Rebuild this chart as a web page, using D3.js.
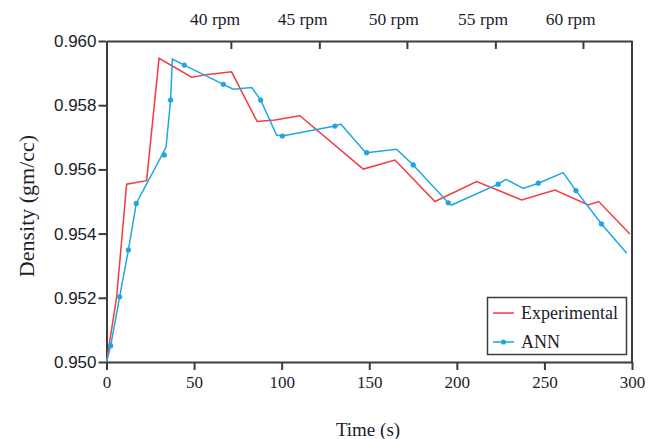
<!doctype html>
<html>
<head>
<script src="https://cdnjs.cloudflare.com/ajax/libs/d3/7.8.5/d3.min.js"></script>
<style>
  body { margin: 0; background: #fff; }
  svg { display: block; }
</style>
</head>
<body>
<svg id="chart" width="660" height="439"></svg>
<script>
// Experimental series (time in s, density in gm/cc)
var expTime = [0, 5.8, 11.5, 22.9, 30, 48.6, 58, 71.4, 86, 96.2, 110.4, 146.6, 164.7, 187.5, 211.3, 237, 256, 275, 281, 298.8];
var expDensity = [0.9500, 0.95203, 0.95554, 0.95565, 0.95946, 0.95887, 0.95896, 0.95904, 0.95749, 0.95754, 0.95767, 0.95601, 0.95629, 0.95500, 0.95562, 0.95505, 0.95536, 0.95489, 0.95500, 0.95399];

// ANN line vertices
var annTime = [0, 2.4, 7.5, 12.5, 17, 34, 36.6, 37.6, 44.4, 66.7, 72.4, 82.9, 88, 97.1, 100.4, 130.4, 133.8, 147.5, 148.5, 165.6, 175.1, 195.1, 197, 223.6, 228, 237.9, 246.5, 260.7, 268, 282.6, 297];
var annDensity = [0.9500, 0.95051, 0.95203, 0.95349, 0.95494, 0.95669, 0.95816, 0.95944, 0.95925, 0.95865, 0.95850, 0.95855, 0.95816, 0.95707, 0.95704, 0.95735, 0.95741, 0.95655, 0.95652, 0.95663, 0.95614, 0.95496, 0.95489, 0.95554, 0.95569, 0.95541, 0.95557, 0.95590, 0.95534, 0.95430, 0.95339];

// ANN markers
var markTime = [2.4, 7.5, 12.5, 17, 33, 36.6, 44.4, 66.7, 88, 100.4, 130.4, 148.5, 175.1, 195.1, 223.6, 246.5, 268, 282.6];
var markDensity = [0.95051, 0.95203, 0.95349, 0.95494, 0.95645, 0.95816, 0.95925, 0.95865, 0.95816, 0.95704, 0.95735, 0.95652, 0.95614, 0.95496, 0.95554, 0.95557, 0.95534, 0.95430];

// top rpm axis
var rpmTicks = [71, 121.5, 171.5, 222, 272];
var rpmLabelPos = [62, 112, 164, 215, 265];
var rpmLabels = ["40 rpm", "45 rpm", "50 rpm", "55 rpm", "60 rpm"];

var xTicks = [0, 50, 100, 150, 200, 250, 300];
var yTicks = [0.950, 0.952, 0.954, 0.956, 0.958, 0.960];

var mLeft = 106.5, mRight = 632, mTop = 41, mBottom = 362;
var redColor = "#f23b43", blueColor = "#1fa6e2", axisColor = "#3c3c3c", textColor = "#1c1c2a";

var svg = d3.select("#chart");
svg.append("rect").attr("width", 660).attr("height", 439).attr("fill", "#fff");

var x = d3.scaleLinear().domain([0, 300]).range([mLeft, mRight]);
var y = d3.scaleLinear().domain([0.950, 0.960]).range([mBottom, mTop]);

// bottom axis
var xAxis = svg.append("g")
  .attr("transform", "translate(0," + mBottom + ")")
  .call(d3.axisBottom(x).tickValues(xTicks).tickFormat(d3.format("d")).tickSize(8).tickSizeOuter(0).tickPadding(6));
xAxis.selectAll("text")
  .style("font-family", "'Liberation Serif', serif").style("font-size", "17px").attr("fill", textColor);

// left axis
var yAxis = svg.append("g")
  .attr("transform", "translate(" + mLeft + ",0)")
  .call(d3.axisLeft(y).tickValues(yTicks).tickFormat(d3.format(".3f")).tickSize(8).tickSizeOuter(0).tickPadding(2));
yAxis.selectAll("text")
  .style("font-family", "'Liberation Sans', sans-serif").style("font-size", "17px").attr("fill", textColor);

// top axis, ticks pointing inward
var topAxis = svg.append("g")
  .attr("transform", "translate(0," + mTop + ")")
  .call(d3.axisBottom(x).tickValues(rpmTicks).tickFormat("").tickSize(8).tickSizeOuter(0));

[xAxis, yAxis, topAxis].forEach(function(g) {
  g.selectAll("line").attr("stroke", axisColor).attr("stroke-width", 2);
  g.select(".domain").attr("stroke", axisColor).attr("stroke-width", 2);
});

// right frame
svg.append("line")
  .attr("x1", mRight).attr("x2", mRight).attr("y1", mTop).attr("y2", mBottom)
  .attr("stroke", axisColor).attr("stroke-width", 2);

svg.selectAll(".rpm")
  .data(rpmLabels)
  .enter().append("text")
  .attr("class", "rpm")
  .attr("x", function(d, i) { return x(rpmLabelPos[i]); })
  .attr("y", 25)
  .attr("text-anchor", "middle")
  .style("font-family", "'Liberation Serif', serif").style("font-size", "17.5px")
  .attr("fill", textColor)
  .text(function(d) { return d; });

// axis titles
svg.append("text")
  .attr("x", 368).attr("y", 436)
  .attr("text-anchor", "middle")
  .style("font-family", "'Liberation Serif', serif").style("font-size", "19px")
  .attr("fill", textColor)
  .text("Time (s)");

svg.append("text")
  .attr("transform", "translate(34,206) rotate(-90)")
  .attr("text-anchor", "middle")
  .style("font-family", "'Liberation Serif', serif").style("font-size", "22px")
  .attr("fill", textColor)
  .text("Density (gm/cc)");

// lines
var line = d3.line().x(function(d) { return x(d[0]); }).y(function(d) { return y(d[1]); });
var expData = d3.zip(expTime, expDensity);
var annData = d3.zip(annTime, annDensity);
var markData = d3.zip(markTime, markDensity);

svg.append("path").datum(expData)
  .attr("d", line).attr("fill", "none").attr("stroke", redColor).attr("stroke-width", 1.5);

svg.append("path").datum(annData)
  .attr("d", line).attr("fill", "none").attr("stroke", blueColor).attr("stroke-width", 1.5);

svg.selectAll(".mark")
  .data(markData)
  .enter().append("circle")
  .attr("class", "mark")
  .attr("cx", function(d) { return x(d[0]); })
  .attr("cy", function(d) { return y(d[1]); })
  .attr("r", 2.6)
  .attr("fill", blueColor);

// legend
var lg = svg.append("g");
lg.append("rect")
  .attr("x", 487.5).attr("y", 297.5).attr("width", 139).attr("height", 57)
  .attr("fill", "#fff").attr("stroke", axisColor).attr("stroke-width", 1.5);
lg.append("line").attr("x1", 493).attr("x2", 514).attr("y1", 313).attr("y2", 313)
  .attr("stroke", redColor).attr("stroke-width", 1.5);
lg.append("line").attr("x1", 493).attr("x2", 514).attr("y1", 342).attr("y2", 342)
  .attr("stroke", blueColor).attr("stroke-width", 1.5);
lg.append("circle").attr("cx", 503.5).attr("cy", 342).attr("r", 2.6).attr("fill", blueColor);
lg.append("text").attr("x", 521).attr("y", 319)
  .style("font-family", "'Liberation Serif', serif").style("font-size", "18px")
  .attr("fill", textColor).text("Experimental");
lg.append("text").attr("x", 521).attr("y", 348)
  .style("font-family", "'Liberation Serif', serif").style("font-size", "18px")
  .attr("fill", textColor).text("ANN");
</script>
</body>
</html>
